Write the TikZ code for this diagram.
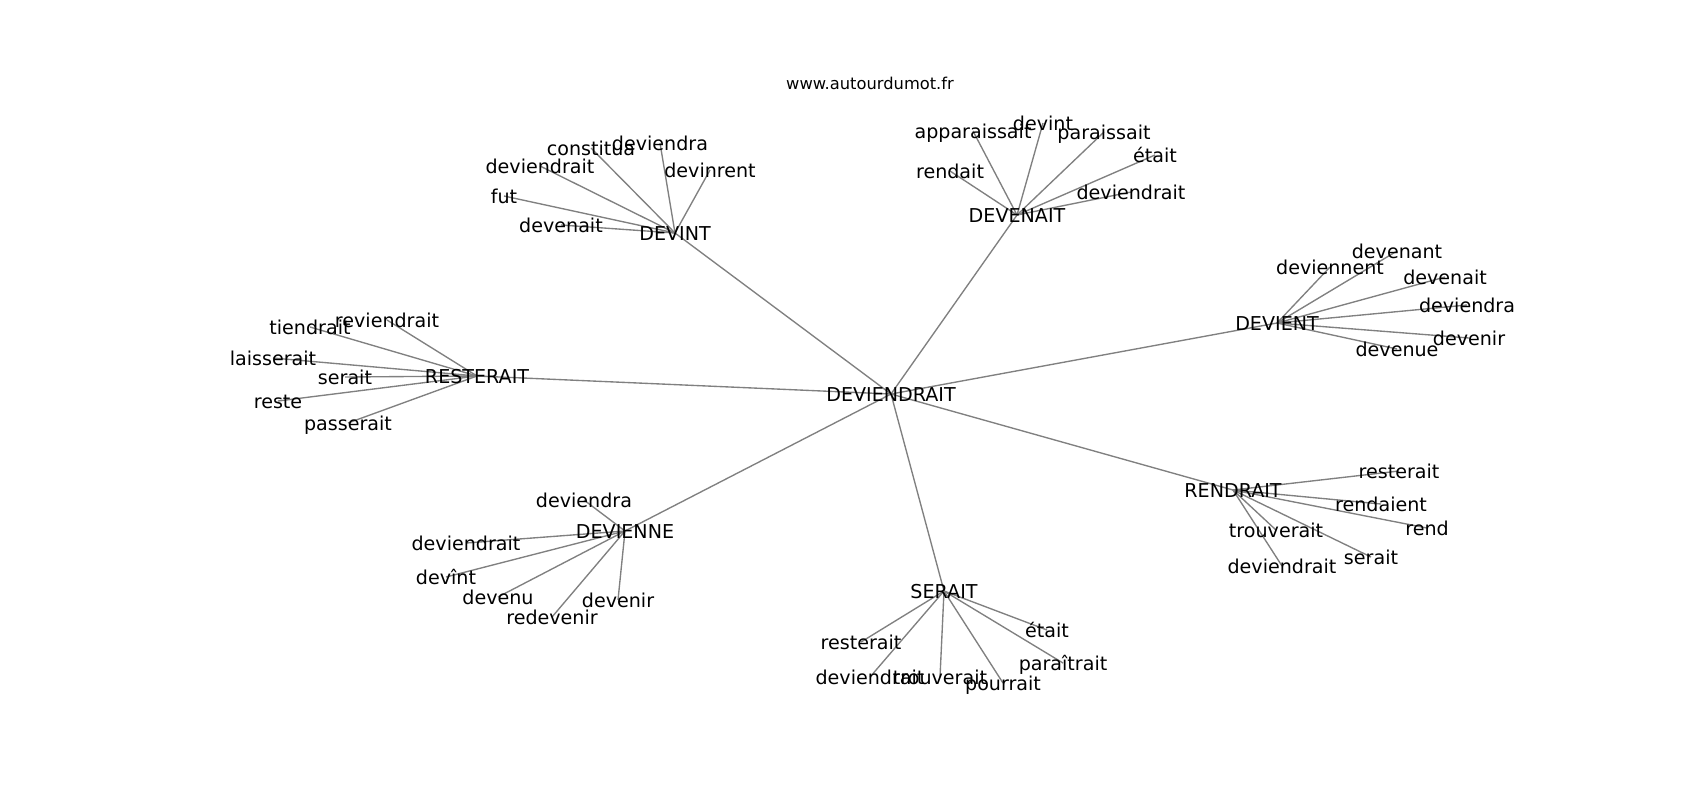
\documentclass[tikz,border=0pt]{standalone}
\usepackage{fontspec}
\setmainfont{DejaVu Sans}
\usetikzlibrary{backgrounds}
\begin{document}
\begin{tikzpicture}[x=0.5pt,y=-0.5pt,
  w/.style={inner sep=0pt,text height=0.75em,text depth=0.05em,font=\fontsize{9.55}{11}\selectfont,text=black},
  ttl/.style={inner sep=0pt,text height=0.75em,text depth=0.05em,font=\fontsize{8.15}{10}\selectfont,text=black},
  edge/.style={draw=black!50,line width=0.68pt}]
\useasboundingbox (0,0) rectangle (1700,800);
\node[ttl] (title) at (870,82) {www.autourdumot.fr};
% centre
\node[w] (c) at (891,394) {DEVIENDRAIT};
% hubs
\node[w] (h1) at (675,233) {DEVINT};
\node[w] (h2) at (1017,215) {DEVENAIT};
\node[w] (h3) at (1277,323) {DEVIENT};
\node[w] (h4) at (477,376) {RESTERAIT};
\node[w] (h5) at (1233,490) {RENDRAIT};
\node[w] (h6) at (944,591) {SERAIT};
\node[w] (h7) at (625,531) {DEVIENNE};
% DEVINT leaves
\node[w] (a1) at (591,148) {constitua};
\node[w] (a2) at (660,143) {deviendra};
\node[w] (a3) at (540,166) {deviendrait};
\node[w] (a4) at (710,170) {devinrent};
\node[w] (a5) at (504,196) {fut};
\node[w] (a6) at (561,225) {devenait};
% DEVENAIT leaves
\node[w] (b1) at (973,131) {apparaissait};
\node[w] (b2) at (1043,123) {devint};
\node[w] (b3) at (1104,132) {paraissait};
\node[w] (b4) at (1155,155) {était};
\node[w] (b5) at (950,171) {rendait};
\node[w] (b6) at (1131,192) {deviendrait};
% DEVIENT leaves
\node[w] (d1) at (1397,251) {devenant};
\node[w] (d2) at (1330,267) {deviennent};
\node[w] (d3) at (1445,277) {devenait};
\node[w] (d4) at (1467,305) {deviendra};
\node[w] (d5) at (1469,338) {devenir};
\node[w] (d6) at (1397,349) {devenue};
% RESTERAIT leaves
\node[w] (e1) at (310,327) {tiendrait};
\node[w] (e2) at (387,320) {reviendrait};
\node[w] (e3) at (273,358) {laisserait};
\node[w] (e4) at (345,377) {serait};
\node[w] (e5) at (278,401) {reste};
\node[w] (e6) at (348,423) {passerait};
% RENDRAIT leaves
\node[w] (f1) at (1399,471) {resterait};
\node[w] (f2) at (1381,504) {rendaient};
\node[w] (f3) at (1427,528) {rend};
\node[w] (f4) at (1276,530) {trouverait};
\node[w] (f5) at (1371,557) {serait};
\node[w] (f6) at (1282,566) {deviendrait};
% SERAIT leaves
\node[w] (g1) at (1047,630) {était};
\node[w] (g2) at (861,642) {resterait};
\node[w] (g3) at (1063,663) {paraîtrait};
\node[w] (g4) at (870,677) {deviendrait};
\node[w] (g5) at (940,677) {trouverait};
\node[w] (g6) at (1003,683) {pourrait};
% DEVIENNE leaves
\node[w] (k1) at (584,500) {deviendra};
\node[w] (k2) at (466,543) {deviendrait};
\node[w] (k3) at (446,577) {devînt};
\node[w] (k4) at (498,597) {devenu};
\node[w] (k5) at (618,600) {devenir};
\node[w] (k6) at (552,617) {redevenir};
\begin{pgfonlayer}{background}
\foreach \h in {h1,h2,h3,h4,h5,h6,h7} \draw[edge] (c.center) -- (\h.center);
\foreach \l in {a1,a2,a3,a4,a5,a6} \draw[edge] (h1.center) -- (\l.center);
\foreach \l in {b1,b2,b3,b4,b5,b6} \draw[edge] (h2.center) -- (\l.center);
\foreach \l in {d1,d2,d3,d4,d5,d6} \draw[edge] (h3.center) -- (\l.center);
\foreach \l in {e1,e2,e3,e4,e5,e6} \draw[edge] (h4.center) -- (\l.center);
\foreach \l in {f1,f2,f3,f4,f5,f6} \draw[edge] (h5.center) -- (\l.center);
\foreach \l in {g1,g2,g3,g4,g5,g6} \draw[edge] (h6.center) -- (\l.center);
\foreach \l in {k1,k2,k3,k4,k5,k6} \draw[edge] (h7.center) -- (\l.center);
\end{pgfonlayer}
\end{tikzpicture}
\end{document}
